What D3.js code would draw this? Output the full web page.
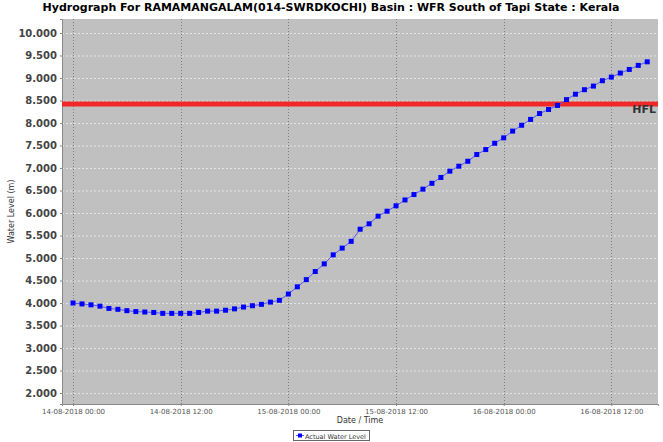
<!DOCTYPE html>
<html>
<head>
<meta charset="utf-8">
<script src="https://cdn.jsdelivr.net/npm/d3@7"></script>
<style>
  body { margin: 0; background: #fff; }
  text { font-family: "DejaVu Sans", sans-serif; }
</style>
</head>
<body>
<svg></svg>
<script>
const width = 663;
const height = 442;

// hourly readings starting 14-08-2018 00:00
const startTime = new Date(2018, 7, 14, 0, 0);
const waterLevel = [
  4.00, 3.98, 3.96, 3.93, 3.88, 3.86, 3.83, 3.81, 3.80, 3.79, 3.77, 3.77, 3.77, 3.77,
  3.79, 3.82, 3.82, 3.84, 3.87, 3.91, 3.94, 3.97, 4.02, 4.06, 4.20, 4.36, 4.52,
  4.70, 4.87, 5.07, 5.22, 5.37, 5.64, 5.76, 5.93, 6.04, 6.16, 6.29, 6.41, 6.53,
  6.66, 6.79, 6.93, 7.04, 7.15, 7.30, 7.41, 7.55, 7.67, 7.82, 7.95, 8.08, 8.21,
  8.30, 8.39, 8.52, 8.64, 8.74, 8.82, 8.94, 9.02, 9.11, 9.19, 9.28, 9.36
];
const hfl = 8.42;
const yTicks = [2, 2.5, 3, 3.5, 4, 4.5, 5, 5.5, 6, 6.5, 7, 7.5, 8, 8.5, 9, 9.5, 10];
const xTicks = [0, 12, 24, 36, 48, 60].map(h => new Date(startTime.getTime() + h * 3600e3));

const data = waterLevel.map((v, i) => ({ t: new Date(startTime.getTime() + i * 3600e3), v: v }));

const margin = { left: 62, right: 5, top: 19, bottom: 38 };
const pw = width - margin.left - margin.right;
const ph = height - margin.top - margin.bottom;

let svg = d3.select("svg").attr("width", width).attr("height", height);

let x = d3.scaleTime()
  .domain([new Date(startTime.getTime() - 1.23 * 3600e3), new Date(startTime.getTime() + 65.2 * 3600e3)])
  .range([margin.left, margin.left + pw]);
let y = d3.scaleLinear().domain([1.756, 10.311]).range([margin.top + ph, margin.top]);

// title
svg.append("text").attr("x", 331).attr("y", 11).attr("text-anchor", "middle")
  .attr("font-size", 11).attr("font-weight", "bold").attr("fill", "#000")
  .text("Hydrograph For RAMAMANGALAM(014-SWRDKOCHI) Basin : WFR South of Tapi State : Kerala");

// plot background
svg.append("rect").attr("x", margin.left).attr("y", margin.top).attr("width", pw).attr("height", ph)
  .attr("fill", "#c0c0c0");

// grid
svg.append("g").selectAll("line").data(yTicks).join("line")
  .attr("x1", margin.left).attr("x2", margin.left + pw)
  .attr("y1", d => y(d) + 0.5).attr("y2", d => y(d) + 0.5)
  .attr("stroke", "#e4e4e4").attr("stroke-width", 1).attr("stroke-dasharray", "2,2");
svg.append("g").selectAll("line").data(xTicks).join("line")
  .attr("x1", d => Math.round(x(d)) + 0.5).attr("x2", d => Math.round(x(d)) + 0.5)
  .attr("y1", margin.top).attr("y2", margin.top + ph)
  .attr("stroke", "#808080").attr("stroke-width", 1).attr("stroke-dasharray", "1,2");

// axes
let yAxis = svg.append("g").attr("transform", `translate(${margin.left},0)`)
  .call(d3.axisLeft(y).tickValues(yTicks).tickFormat(d3.format(".3f")).tickSize(2).tickPadding(3));
yAxis.select(".domain").attr("stroke", "#888");
yAxis.selectAll("line").attr("stroke", "#888");
yAxis.selectAll("text").attr("font-size", 10).attr("font-weight", "bold").attr("fill", "#444")
  .attr("font-family", "DejaVu Sans");

let xAxis = svg.append("g").attr("transform", `translate(0,${margin.top + ph})`)
  .call(d3.axisBottom(x).tickValues(xTicks).tickFormat(d3.timeFormat("%d-%m-%Y %H:%M")).tickSize(2).tickPadding(3));
xAxis.select(".domain").attr("stroke", "#888");
xAxis.selectAll("line").attr("stroke", "#888");
xAxis.selectAll("text").attr("font-size", 7).attr("fill", "#555").attr("font-family", "DejaVu Sans");

// axis labels
svg.append("text").attr("x", margin.left + pw / 2).attr("y", 423).attr("text-anchor", "middle")
  .attr("font-size", 8).attr("fill", "#333").text("Date / Time");
svg.append("text").attr("transform", `translate(14,${margin.top + ph / 2}) rotate(-90)`)
  .attr("text-anchor", "middle").attr("font-size", 8).attr("fill", "#333").text("Water Level (m)");

// HFL
svg.append("line").attr("x1", margin.left).attr("x2", margin.left + pw)
  .attr("y1", y(hfl)).attr("y2", y(hfl)).attr("stroke", "#f02828").attr("stroke-width", 5);
svg.append("text").attr("x", margin.left + pw - 2).attr("y", y(hfl) + 9).attr("text-anchor", "end")
  .attr("font-size", 11).attr("font-weight", "bold").attr("fill", "#333").text("HFL");

// series
const line = d3.line().x(d => x(d.t)).y(d => y(d.v));
svg.append("path").attr("d", line(data)).attr("fill", "none").attr("stroke", "#5555ff").attr("stroke-width", 1);
svg.append("g").selectAll("rect").data(data).join("rect")
  .attr("x", d => x(d.t) - 2.5).attr("y", d => y(d.v) - 2.5).attr("width", 5).attr("height", 5)
  .attr("fill", "#0000ff");

// legend
let lg = svg.append("g");
lg.append("rect").attr("x", 293.5).attr("y", 430.5).attr("width", 76).attr("height", 10)
  .attr("fill", "#fff").attr("stroke", "#666");
lg.append("line").attr("x1", 296).attr("x2", 304).attr("y1", 435.5).attr("y2", 435.5).attr("stroke", "#5555ff");
lg.append("rect").attr("x", 298).attr("y", 433.5).attr("width", 4).attr("height", 4).attr("fill", "#0000ff");
lg.append("text").attr("x", 305).attr("y", 438.5).attr("font-size", 6.5).attr("fill", "#333").text("Actual Water Level");
</script>
</body>
</html>
